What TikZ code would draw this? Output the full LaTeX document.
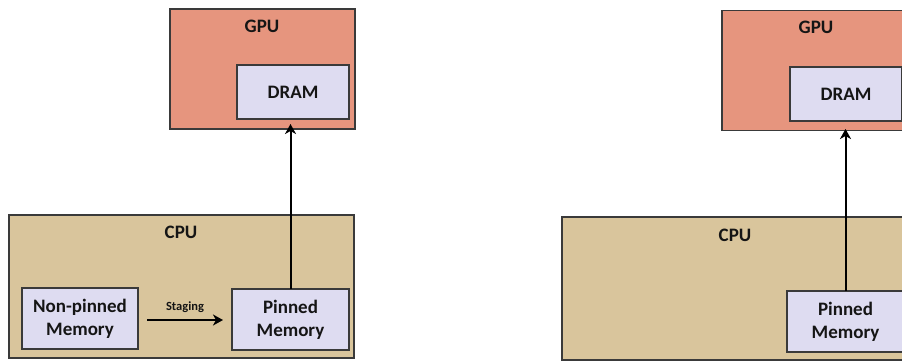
\documentclass[tikz,border=0pt]{standalone}
\usepackage{fontspec}
\setmainfont{Carlito}
\usetikzlibrary{arrows.meta}
\definecolor{gpuc}{HTML}{E6957E}
\definecolor{cpuc}{HTML}{D9C59C}
\definecolor{memc}{HTML}{DEDCF1}
\definecolor{edgec}{HTML}{3A3A3A}
\definecolor{txtc}{HTML}{151515}
\tikzset{
  box/.style={draw=edgec, line width=1.2pt, inner sep=0pt, outer sep=0pt},
  gpubox/.style={box, fill=gpuc, minimum width=185pt, minimum height=120pt},
  cpubox/.style={box, fill=cpuc, minimum width=345pt, minimum height=143pt},
  membox/.style={box, fill=memc, text=txtc, font=\bfseries\fontsize{19}{23}\selectfont, align=center},
  title/.style={text=txtc, font=\bfseries\fontsize{19}{22}\selectfont, inner sep=0pt},
  conn/.style={line width=2pt, black, -{Stealth[length=10pt,width=11pt,inset=3pt]}},
  small/.style={text=txtc, font=\bfseries\fontsize{12.5}{14}\selectfont, inner sep=0pt}
}
\begin{document}
\begin{tikzpicture}[x=1pt,y=-1pt]
\useasboundingbox (0,0) rectangle (902,360);
\fill[white] (0,0) rectangle (902,360);
\clip (0,0) rectangle (902,360);
% ---------- left diagram ----------
\node[gpubox] (gpuL) at (262.5,69) {};
\node[title] (gpuLt) at (262,26) {GPU};
\node[membox, minimum width=112pt, minimum height=54pt] (dramL) at (293,92) {DRAM};
\node[cpubox] (cpuL) at (181.5,286.5) {};
\node[title] (cpuLt) at (181,232) {CPU};
\node[membox, minimum width=116pt, minimum height=61pt] (npL) at (80,318.5) {Non-pinned\\Memory};
\node[membox, minimum width=117pt, minimum height=61pt] (pinL) at (290.5,319.5) {Pinned\\Memory};
\draw[conn, shorten >=5pt] (pinL.north) -- (pinL.north |- dramL.south);
\draw[conn, shorten <=9pt, shorten >=9pt] (npL.east |- 0,320) coordinate (sA) -- (pinL.west |- 0,320) coordinate (sB);
\node[small] (stg) at (185,307) {Staging};
% ---------- right diagram ----------
\node[gpubox] (gpuR) at (814.5,70.5) {};
\node[title] (gpuRt) at (816,27) {GPU};
\node[membox, minimum width=112pt, minimum height=54pt] (dramR) at (846,94) {DRAM};
\node[cpubox] (cpuR) at (734.5,288.5) {};
\node[title] (cpuRt) at (735,235) {CPU};
\node[membox, minimum width=117pt, minimum height=61pt] (pinR) at (845.5,321.5) {Pinned\\Memory};
\draw[conn, shorten >=8pt] (pinR.north) -- (pinR.north |- dramR.south);
\end{tikzpicture}
\end{document}
